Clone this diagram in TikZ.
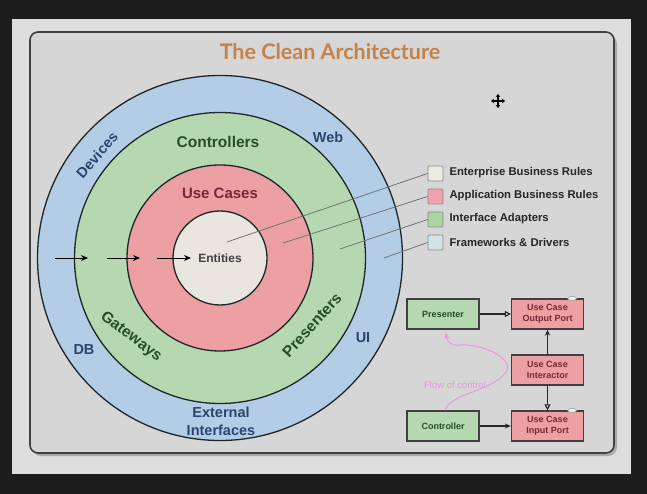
\documentclass[tikz,border=0pt]{standalone}
\usepackage{fontspec}
\setmainfont{Liberation Sans}
\newfontfamily\titlefont{Lato}
\usetikzlibrary{arrows.meta}
\definecolor{bgdark}{RGB}{28,28,28}
\definecolor{panelc}{RGB}{222,222,222}
\definecolor{innerc}{RGB}{214,214,214}
\definecolor{shadowc}{RGB}{170,170,170}
\definecolor{blueF}{RGB}{180,205,230}
\definecolor{greenF}{RGB}{182,216,177}
\definecolor{redF}{RGB}{236,160,163}
\definecolor{entF}{RGB}{232,230,222}
\definecolor{ringc}{RGB}{30,38,40}
\definecolor{blueT}{RGB}{42,70,108}
\definecolor{greenT}{RGB}{38,78,40}
\definecolor{redT}{RGB}{118,40,56}
\definecolor{titleT}{RGB}{196,130,72}
\definecolor{lg1}{RGB}{236,236,228}
\definecolor{lg2}{RGB}{240,162,176}
\definecolor{lg3}{RGB}{170,212,162}
\definecolor{lg4}{RGB}{212,226,232}
\definecolor{flowpink}{RGB}{232,150,226}
\begin{document}
\begin{tikzpicture}[x=1pt,y=-1pt,
  ring/.style={circle,draw=ringc,line width=1.3pt,inner sep=0pt},
  lblblue/.style={text=blueT,font=\fontsize{14.5}{18}\selectfont\bfseries},
  lblgreen/.style={text=greenT,font=\fontsize{15.5}{18}\selectfont\bfseries},
  lblred/.style={text=redT,font=\fontsize{15}{18}\selectfont\bfseries},
  flowarr/.style={line width=1.1pt,draw=black!85},
  leader/.style={draw=black!55,line width=0.8pt},
  lgbox/.style={draw=black!45,line width=0.8pt,minimum size=15pt,inner sep=0pt,rounded corners=1pt},
  lgtext/.style={anchor=west,text=black!85,font=\fontsize{11.3}{13}\selectfont\bfseries},
  fbox/.style={draw=black!75,line width=1.3pt,minimum width=72pt,minimum height=30pt,inner sep=1pt,align=center,font=\fontsize{9}{11}\selectfont\bfseries},
  fgreen/.style={fbox,fill=greenF,text=greenT},
  fpink/.style={fbox,fill=redF,text=redT},
]
\useasboundingbox (0,0) rectangle (647,494);
\fill[bgdark] (0,0) rectangle (647,494);
\fill[panelc] (12,19) rectangle (631,474);
\fill[shadowc,rounded corners=9pt] (32,35) rectangle (617,456);
\draw[fill=innerc,draw=black!75,line width=1.6pt,rounded corners=8pt] (30,32) rectangle (614,453);

\node[font=\titlefont\fontsize{21.5}{24}\selectfont\bfseries,text=titleT] (title) at (330,52) {The Clean Architecture};

% concentric circles
\node[ring,fill=blueF,minimum size=365pt] (fw) at (220,258) {};
\node[ring,fill=greenF,minimum size=291pt] (ia) at (220,258) {};
\node[ring,fill=redF,minimum size=186pt] (ab) at (220,258) {};
\node[ring,fill=entF,minimum size=94pt,text=black!75,font=\fontsize{12}{14}\selectfont\bfseries] (ent) at (220,258) {Entities};

% ring labels
\node[lblblue,rotate=49] (devices) at (97,155) {Devices};
\node[lblblue] (web) at (328,137) {Web};
\node[lblblue] (db) at (84,350) {DB};
\node[lblblue] (ui) at (363,338) {UI};
\node[lblblue,align=center] (ext) at (221,421) {External\\Interfaces};
\node[lblgreen] (ctrl) at (218,142) {Controllers};
\node[lblgreen,rotate=-37] (gw) at (131,337) {Gateways};
\node[lblgreen,rotate=48] (pres) at (312,325) {Presenters};
\node[lblred] (uc) at (220,193) {Use Cases};

% dependency arrows
\coordinate (a1s) at (55,258); \coordinate (a1e) at (88,258);
\coordinate (a2s) at (107,258); \coordinate (a2e) at (140,258);
\coordinate (a3s) at (157,258); \coordinate (a3e) at (191,258);
\foreach \s/\e in {a1s/a1e,a2s/a2e,a3s/a3e}
  \draw[line width=1pt,-{Stealth[length=7pt,width=6pt]}] (\s) -- (\e);

% legend
\node[lgbox,fill=lg1] (l1) at (435.5,173.5) {};
\node[lgbox,fill=lg2] (l2) at (435.5,196.5) {};
\node[lgbox,fill=lg3] (l3) at (435.5,219.5) {};
\node[lgbox,fill=lg4] (l4) at (435.5,242.5) {};
\node[lgtext] (t1) at (446,173) {Enterprise Business Rules};
\node[lgtext] (t2) at (446,196) {Application Business Rules};
\node[lgtext] (t3) at (446,219) {Interface Adapters};
\node[lgtext] (t4) at (446,242) {Frameworks \& Drivers};
\coordinate (p1) at (227,242);
\coordinate (p2) at (283,243);
\coordinate (p3) at (340,249);
\coordinate (p4) at (384,258);
\draw[leader] (l1.west) -- (p1);
\draw[leader] (l2.west) -- (p2);
\draw[leader] (l3.west) -- (p3);
\draw[leader] (l4.west) -- (p4);

% cursor
\coordinate (cur) at (498,101);
\foreach \dx/\dy in {0/-7,0/7,-7/0,7/0}
  \draw[line width=1.3pt,-{Stealth[length=3pt,width=4.5pt]}] (cur) -- ++(\dx,\dy);

% flow diagram
\node[fgreen] (fpres) at (443,314) {Presenter};
\node[fpink] (fout) at (547.5,314) {Use Case\\Output Port};
\node[fpink] (finter) at (547.5,370) {Use Case\\Interactor};
\node[fgreen] (fctrl) at (443,426) {Controller};
\node[fpink] (fin) at (547.5,426) {Use Case\\Input Port};
\foreach \n in {fout,fin}
  \draw[fill=white!85!gray,draw=black!40,line width=0.5pt] ([xshift=-12pt]\n.north east) ellipse (4.5pt and 2pt);
\draw[flowarr,-{Triangle[open,length=6pt,width=6pt]}] (fpres) -- (fout);
\draw[flowarr,-{Stealth[length=6pt,width=5pt]}] (finter) -- (fout);
\draw[flowarr,-{Triangle[open,length=6pt,width=6pt]}] (finter) -- (fin);
\draw[flowarr,-{Stealth[length=6pt,width=5pt]}] (fctrl) -- (fin);
\coordinate (fend) at (446,333);
\draw[flowpink,line width=1pt,-{Stealth[length=6pt,width=5pt]}]
  ([xshift=2pt]fctrl.north) .. controls (452,392) and (492,392) .. (506,372)
  .. controls (515,358) and (480,343) .. (459,345)
  .. controls (450,346) and (447,341) .. (fend);
\node[text=flowpink,font=\fontsize{9.5}{12}\selectfont] (foc) at (455,385) {Flow of control};
\end{tikzpicture}
\end{document}
